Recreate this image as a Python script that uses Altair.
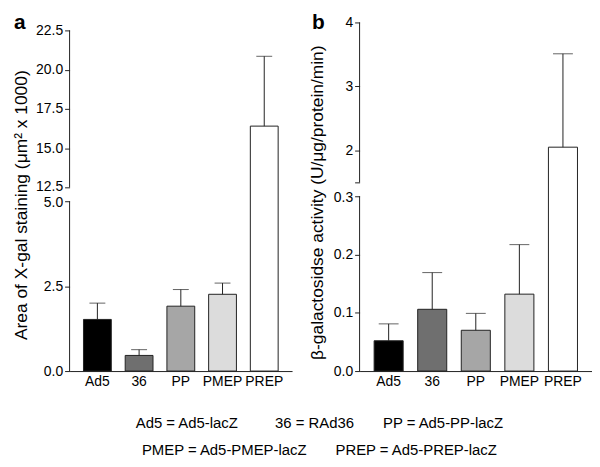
import altair as alt
import pandas as pd

# ---- data ----
categories = ["Ad5", "36", "PP", "PMEP", "PREP"]
fills = ["#000000", "#6f6f6f", "#a6a6a6", "#dcdcdc", "#ffffff"]

a_mean = [1.52, 0.46, 1.91, 2.26, 16.4]
a_err = [0.48, 0.17, 0.49, 0.33, 4.45]
b_mean = [0.052, 0.106, 0.070, 0.132, 2.05]
b_err = [0.029, 0.063, 0.029, 0.085, 1.46]

a_ticks = [0, 2.5, 5, 12.5, 15, 17.5, 20, 22.5]
b_ticks = [0, 0.1, 0.2, 0.3, 1.5, 2, 3, 4]

a_break = [0, 5, 12.5, 22.5]
b_break = [0, 0.3, 1.5, 4]
a_seg_lo = [0, 12.5]
a_seg_hi = [5, 22.5]
b_seg_lo = [0, 1.5]
b_seg_hi = [0.3, 4]

legend_line1 = "Ad5 = Ad5-lacZ" + "\u00a0" * 9 + "36 = RAd36" + "\u00a0" * 7 + "PP = Ad5-PP-lacZ"
legend_line2 = "PMEP = Ad5-PMEP-lacZ" + "\u00a0" * 7 + "PREP = Ad5-PREP-lacZ"

FONT = "Liberation Sans"
INK = "#222222"
H = 351


def panel(mean, err, ticks, dom, rng, seg_lo, seg_hi, width, title, title_x, title_y,
          cap, label_expr, letter, letter_x, gap_lo, gap_hi):
    df = pd.DataFrame({
        "cat": categories,
        "mean": mean,
        "upper": [m + e for m, e in zip(mean, err)],
    })
    seg = pd.DataFrame({"lo": seg_lo, "hi": seg_hi})
    yscale = alt.Scale(domain=dom, range=rng, nice=False)
    yaxis = alt.Axis(values=ticks, domain=False, tickSize=5, tickColor=INK,
                     labelFontSize=14, labelFont=FONT, labelColor="#000000",
                     labelPadding=2, labelExpr=label_expr, grid=False,
                     labelOffset={"condition": [
                         {"test": f"datum.value == {gap_hi}", "value": -1},
                         {"test": f"datum.value == {gap_lo}", "value": 1}],
                         "value": 0},
                     title=title, titleFont=FONT, titleFontSize=17.5,
                     titleFontWeight="normal", titleColor="#000000",
                     titleX=title_x, titleY=title_y, titleAngle=270,
                     titleAlign="center", titleBaseline="middle")
    xaxis = alt.Axis(title=None, ticks=False, labelAngle=0, labelFontSize=14,
                     labelFont=FONT, labelColor="#000000", labelPadding=4,
                     domainColor=INK)
    xenc = alt.X("cat:N", sort=categories,
                 scale=alt.Scale(paddingInner=1 / 3, paddingOuter=1 / 3), axis=xaxis)
    bars = alt.Chart(df).mark_bar(stroke=INK, strokeWidth=1).encode(
        x=xenc,
        y=alt.Y("mean:Q", scale=yscale, axis=yaxis),
        color=alt.Color("cat:N", scale=alt.Scale(domain=categories, range=fills),
                        legend=None),
    )
    err_rule = alt.Chart(df).mark_rule(color=INK, strokeWidth=1).encode(
        x=xenc,
        y=alt.Y("mean:Q", scale=yscale, axis=yaxis),
        y2="upper:Q",
    )
    caps = alt.Chart(df).mark_tick(color=INK, size=cap, thickness=1).encode(
        x=xenc,
        y=alt.Y("upper:Q", scale=yscale, axis=yaxis),
    )
    axis_line = alt.Chart(seg).mark_rule(color=INK, strokeWidth=1).encode(
        x=alt.value(0),
        y=alt.Y("lo:Q", scale=yscale, axis=yaxis),
        y2="hi:Q",
    )
    lab = alt.Chart(pd.DataFrame({"t": [letter]})).mark_text(
        font=FONT, fontSize=21, fontWeight="bold", align="left",
        baseline="alphabetic", color="#000000",
    ).encode(x=alt.value(letter_x), y=alt.value(7), text="t:N")
    return alt.layer(bars, err_rule, caps, axis_line, lab).properties(width=width, height=H)


pa = panel(a_mean, a_err, a_ticks, a_break, [H, 180, 166, 8], a_seg_lo, a_seg_hi, 224,
           "Area of X-gal staining (\u03bcm\u00b2 x 1000)", -48, 183.5, 16,
           "format(datum.value, '.1f')", "a", -56, 5, 12.5)
pb = panel(b_mean, b_err, b_ticks, b_break, [H, 175, 161, 0], b_seg_lo, b_seg_hi, 234,
           "\u03b2-galactosidse activity (U/\u03bcg/protein/min)", -42, 181, 20,
           "datum.value == 1.5 ? '' : (datum.value >= 1 ? format(datum.value, 'd') : format(datum.value, '.1f'))",
           "b", -48, 0.3, 1.5)

chart = alt.hconcat(pa, pb, spacing=16).properties(
    padding={"left": 4, "top": 3, "right": 0, "bottom": 0},
    background="#ffffff",
    title=alt.TitleParams(
        text=[legend_line1, legend_line2], orient="bottom", anchor="middle",
        font=FONT, fontSize=15, fontWeight="normal", color="#000000",
        lineHeight=28, offset=27, dx=17,
    ),
).configure_view(stroke=None)

chart.save("out.html", embed_options={"renderer": "svg", "actions": False})
